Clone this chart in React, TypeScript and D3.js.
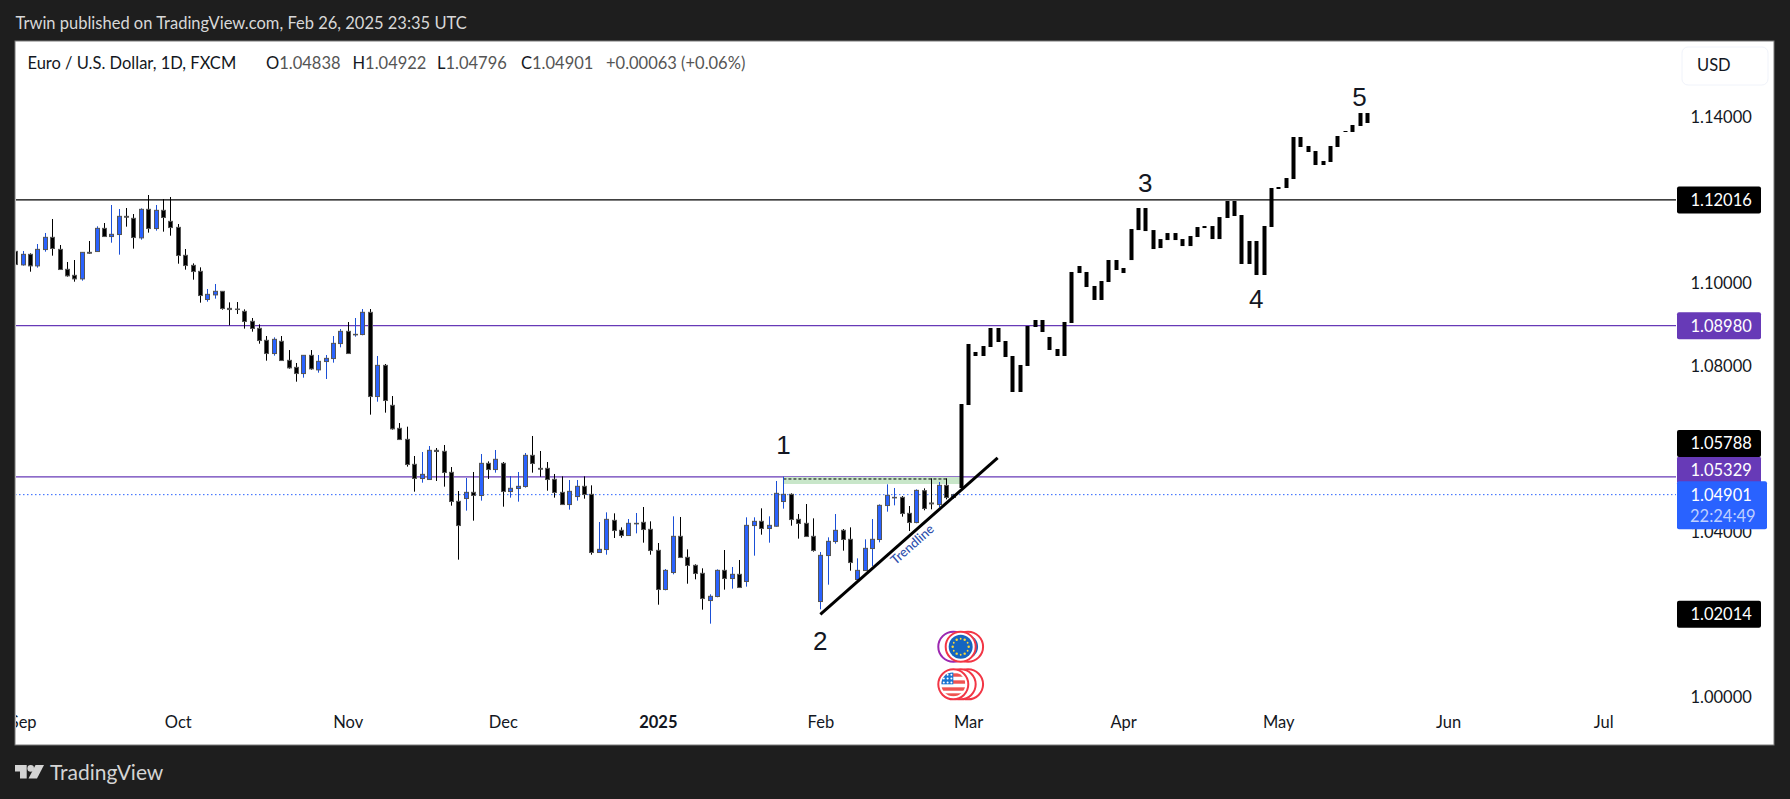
// App.tsx - EURUSD daily chart with a projected five wave path
import React, { useEffect, useRef } from 'react';
import * as d3 from 'd3';

const opens = [
  1.10774,1.10452,1.10702,1.10428,1.10822,1.11112,1.10822,1.10340,1.10195,1.10114,
  1.10750,1.10774,1.11329,1.11136,1.11185,1.11619,1.11571,1.11104,1.11788,1.11329,
  1.11764,1.11498,1.11353,1.10678,1.10436,1.10291,1.09616,1.09728,1.09809,1.09398,
  1.09382,1.09326,1.09085,1.08916,1.08626,1.08312,1.08602,1.08143,1.07974,1.07829,
  1.08264,1.07918,1.08119,1.08191,1.08553,1.08843,1.08763,1.08771,1.09302,1.07274,
  1.08022,1.07057,1.06502,1.06236,1.05633,1.05295,1.05271,1.05971,1.05947,1.05440,
  1.04740,1.04812,1.04957,1.04885,1.05657,1.05512,1.05657,1.04981,1.05054,1.05102,
  1.05850,1.05536,1.05536,1.05271,1.04957,1.04667,1.04860,1.05102,1.04909,1.03509,
  1.03581,1.04281,1.04040,1.03919,1.04201,1.04233,1.04064,1.03557,1.02616,1.03026,
  1.03895,1.03388,1.03195,1.03002,1.02350,1.02447,1.03074,1.02881,1.02978,1.02809,
  1.04160,1.04257,1.04088,1.04144,1.04740,1.04909,1.04305,1.04209,1.03895,1.02326,
  1.03436,1.03774,1.04040,1.03823,1.02857,1.03074,1.03605,1.03823,1.04643,1.04828,
  1.04836,1.04450,1.04233,1.04997,1.04700,1.04667,1.05126,1.04838,
];
const highs = [
  1.10951,1.10782,1.10726,1.10951,1.11217,1.11555,1.10927,1.10517,1.10565,1.10750,
  1.11024,1.11378,1.11458,1.11893,1.11796,1.11820,1.11675,1.11812,1.12134,1.11893,
  1.12037,1.12086,1.11434,1.10830,1.10484,1.10388,1.09865,1.09986,1.09809,1.09543,
  1.09551,1.09374,1.09165,1.09012,1.08730,1.08698,1.08730,1.08392,1.08079,1.08264,
  1.08392,1.08272,1.08272,1.08730,1.08899,1.09068,1.09165,1.09382,1.09382,1.08248,
  1.08055,1.07282,1.06630,1.06542,1.05834,1.05931,1.06075,1.06027,1.06100,1.05568,
  1.04989,1.05303,1.05448,1.05882,1.05705,1.05979,1.05689,1.05351,1.05448,1.05906,
  1.06317,1.05955,1.05689,1.05400,1.05343,1.05255,1.05255,1.05343,1.05126,1.04241,
  1.04474,1.04450,1.04112,1.04313,1.04458,1.04603,1.04257,1.03734,1.03106,1.04378,
  1.04362,1.03581,1.03219,1.03123,1.02495,1.03098,1.03565,1.03155,1.03324,1.04354,
  1.04354,1.04571,1.04378,1.05231,1.05335,1.04933,1.04434,1.04675,1.04329,1.03517,
  1.03871,1.04434,1.04072,1.04112,1.03364,1.03823,1.04313,1.04667,1.05150,1.05062,
  1.04868,1.04627,1.05029,1.05054,1.05295,1.05206,1.05295,1.04922,
];
const lows = [
  1.10460,1.10428,1.10283,1.10380,1.10766,1.10670,1.10340,1.10163,1.10042,1.10066,
  1.10718,1.10774,1.11136,1.10983,1.10694,1.11370,1.10839,1.11056,1.11225,1.11273,
  1.11249,1.11152,1.10476,1.10332,1.10090,1.09535,1.09559,1.09632,1.09366,1.08988,
  1.09262,1.08908,1.08835,1.08545,1.08135,1.08256,1.08143,1.07942,1.07628,1.07725,
  1.07918,1.07845,1.07693,1.08087,1.08457,1.08312,1.08714,1.08747,1.06832,1.07145,
  1.06880,1.06470,1.06220,1.05577,1.04973,1.05190,1.05271,1.05231,1.05094,1.04635,
  1.03332,1.04515,1.04273,1.04756,1.05279,1.05432,1.04611,1.04828,1.04732,1.05070,
  1.05432,1.05335,1.04997,1.04828,1.04667,1.04539,1.04756,1.04804,1.03452,1.03509,
  1.03452,1.03855,1.03863,1.03919,1.03967,1.03742,1.03452,1.02245,1.02591,1.02978,
  1.03388,1.02752,1.02857,1.02125,1.01787,1.02423,1.02608,1.02632,1.02664,1.02680,
  1.03428,1.03935,1.03742,1.04128,1.04563,1.04152,1.03839,1.03895,1.03525,1.02133,
  1.02728,1.03718,1.03549,1.03066,1.02841,1.03058,1.03179,1.03750,1.04490,1.04643,
  1.04370,1.04024,1.04209,1.04523,1.04547,1.04595,1.04788,1.04796,
];
const closes = [
  1.10460,1.10702,1.10428,1.10822,1.11112,1.10847,1.10340,1.10187,1.10114,1.10750,
  1.10734,1.11329,1.11136,1.11185,1.11619,1.11603,1.11112,1.11788,1.11329,1.11764,
  1.11595,1.11353,1.10678,1.10436,1.10291,1.09712,1.09736,1.09809,1.09398,1.09374,
  1.09374,1.09085,1.08916,1.08626,1.08312,1.08650,1.08143,1.07966,1.07829,1.08264,
  1.07942,1.08119,1.08191,1.08553,1.08843,1.08312,1.08771,1.09302,1.07274,1.08022,
  1.07178,1.06494,1.06236,1.05633,1.05295,1.05391,1.05971,1.05947,1.05440,1.04740,
  1.04160,1.04957,1.04885,1.05657,1.05512,1.05754,1.04981,1.05054,1.05102,1.05850,
  1.05657,1.05520,1.05271,1.04957,1.04667,1.04981,1.05102,1.04909,1.03509,1.03581,
  1.04305,1.04040,1.03919,1.04209,1.04209,1.04064,1.03557,1.02616,1.03074,1.03895,
  1.03388,1.03195,1.03002,1.02398,1.02447,1.03074,1.02881,1.02978,1.02664,1.04160,
  1.04257,1.04088,1.04160,1.04933,1.04909,1.04305,1.04209,1.03895,1.03557,1.03436,
  1.03774,1.04040,1.03823,1.03267,1.03074,1.03605,1.03823,1.04643,1.04885,1.04836,
  1.04450,1.04233,1.05005,1.04571,1.04683,1.05126,1.04836,1.04901,
];

// projected path, drawn as solid bars after the last real candle
const projHighs = [
  1.07089,1.08538,1.08345,1.08489,1.08924,1.08924,1.08610,1.08248,1.08031,1.08972,
  1.09117,1.09117,1.08707,1.08417,1.09069,1.10276,1.10420,1.10276,1.09938,1.10058,
  1.10565,1.10565,1.10372,1.11313,1.11820,1.11820,1.11288,1.11071,1.11216,1.11216,
  1.11071,1.11144,1.11361,1.11385,1.11385,1.11602,1.11989,1.11989,1.11651,1.11024,
  1.11024,1.11386,1.12303,1.12327,1.12544,1.13534,1.13534,1.13317,1.13196,1.12955,
  1.13317,1.13558,1.13679,1.13824,1.14113,1.14113,
];
const projLows = [
  1.05062,1.07065,1.08248,1.08248,1.08465,1.08586,1.08224,1.07379,1.07379,1.08007,
  1.08948,1.08827,1.08393,1.08248,1.08248,1.09045,1.10251,1.09913,1.09600,1.09600,
  1.10034,1.10324,1.10251,1.10564,1.11288,1.11264,1.10830,1.10854,1.11047,1.11047,
  1.10902,1.10902,1.11120,1.11337,1.11071,1.11071,1.11579,1.11627,1.10469,1.10469,
  1.10203,1.10203,1.11362,1.12279,1.12303,1.12520,1.13293,1.13172,1.12858,1.12858,
  1.12931,1.13293,1.13655,1.13655,1.13800,1.13872,
];

const priceTicks = [1.0, 1.04, 1.08, 1.1, 1.14];
const monthTicks = [1, 22, 45, 66, 87, 109, 129, 150, 171, 194, 215];
const monthNames = ['Sep', 'Oct', 'Nov', 'Dec', '2025', 'Feb', 'Mar', 'Apr', 'May', 'Jun', 'Jul'];

const blackLevel = 1.12016;
const purpleLevels = [1.0898, 1.05329];
const lastPrice = 1.04901;

const trendStart = { bar: 109, price: 1.02014 };
const trendEnd = { bar: 133, price: 1.05788 };

const waveLabels = ['1', '2', '3', '4', '5'];
const waveBars = [104, 109, 153, 168, 182];
const wavePrices = [1.06099, 1.01376, 1.12423, 1.09624, 1.145];

const legendTitle = 'Euro / U.S. Dollar, 1D, FXCM';
const legendKeys = ['O', 'H', 'L', 'C'];
const legendValues = ['1.04838', '1.04922', '1.04796', '1.04901'];

const euBars = [127, 129];
const usBars = [129, 128, 127];

const W = 1790;
const H = 799;
const panel = { left: 15, top: 41, right: 1774, bottom: 745 };
const paneRight = 1676;
const UI_FONT = "Lato, 'Open Sans', sans-serif";
const BLUE = '#2962ff';
const PURPLE = '#673ab7';
const RED = '#f23645';

const App: React.FC = () => {
  const svgRef = useRef<SVGSVGElement | null>(null);

  useEffect(() => {
    const svg = d3.select(svgRef.current);
    svg.selectAll('*').remove();

    const x = d3.scaleLinear().domain([0, 127]).range([15.3, 953.3]);
    const y = d3.scaleLinear().domain([1.0, 1.14]).range([697.7, 117.7]);

    svg.append('rect').attr('width', W).attr('height', H).attr('fill', '#1e1e1e');
    svg
      .append('rect')
      .attr('x', panel.left)
      .attr('y', panel.top)
      .attr('width', panel.right - panel.left)
      .attr('height', panel.bottom - panel.top)
      .attr('fill', '#fff')
      .attr('stroke', '#787878')
      .attr('stroke-width', 1);

    const defs = svg.append('defs');
    defs
      .append('clipPath')
      .attr('id', 'pane')
      .append('rect')
      .attr('x', panel.left + 1)
      .attr('y', panel.top)
      .attr('width', paneRight - panel.left - 1)
      .attr('height', panel.bottom - panel.top);
    defs
      .append('clipPath')
      .attr('id', 'timeaxis')
      .append('rect')
      .attr('x', panel.left + 1)
      .attr('y', 700)
      .attr('width', panel.right - panel.left - 1)
      .attr('height', 44);

    svg
      .append('text')
      .attr('x', 15.5)
      .attr('y', 29)
      .attr('font-family', UI_FONT)
      .attr('font-size', 16.5)
      .attr('fill', '#d8d8d8')
      .text('Trwin published on TradingView.com, Feb 26, 2025 23:35 UTC');

    const pane = svg.append('g').attr('clip-path', 'url(#pane)');

    // levels sit behind the candles
    pane
      .append('line')
      .attr('x1', panel.left)
      .attr('x2', paneRight)
      .attr('y1', y(blackLevel))
      .attr('y2', y(blackLevel))
      .attr('stroke', '#000')
      .attr('stroke-width', 1.2);
    pane
      .selectAll('line.purple')
      .data(purpleLevels)
      .join('line')
      .attr('class', 'purple')
      .attr('x1', panel.left)
      .attr('x2', paneRight)
      .attr('y1', d => y(d))
      .attr('y2', d => y(d))
      .attr('stroke', PURPLE)
      .attr('stroke-width', 1.2);
    pane
      .append('line')
      .attr('x1', panel.left)
      .attr('x2', paneRight)
      .attr('y1', y(lastPrice))
      .attr('y2', y(lastPrice))
      .attr('stroke', BLUE)
      .attr('stroke-width', 1)
      .attr('stroke-dasharray', '1.5 2.5');

    // green box and dashed line from the wave 1 high
    pane
      .append('rect')
      .attr('x', x(104))
      .attr('y', y(1.05329))
      .attr('width', x(128) - x(104))
      .attr('height', y(1.05158) - y(1.05329))
      .attr('fill', '#c8e6c9');
    pane
      .append('line')
      .attr('x1', x(104))
      .attr('x2', x(126.3))
      .attr('y1', y(1.05279))
      .attr('y2', y(1.05279))
      .attr('stroke', '#000')
      .attr('stroke-width', 1)
      .attr('stroke-dasharray', '3 2');

    const bars = d3.range(opens.length);
    const isUp = (i: number) => closes[i] >= opens[i];

    pane
      .selectAll('line.wick')
      .data(bars)
      .join('line')
      .attr('class', 'wick')
      .attr('x1', i => Math.round(x(i)) + 0.5)
      .attr('x2', i => Math.round(x(i)) + 0.5)
      .attr('y1', i => y(highs[i]))
      .attr('y2', i => y(lows[i]))
      .attr('stroke', i => (isUp(i) ? '#1a4fd6' : '#000'))
      .attr('stroke-width', 1);

    pane
      .selectAll('rect.body')
      .data(bars)
      .join('rect')
      .attr('class', 'body')
      .attr('x', i => Math.round(x(i)) - 1.5)
      .attr('width', 4)
      .attr('y', i => Math.min(y(opens[i]), y(closes[i])))
      .attr('height', i => Math.abs(y(opens[i]) - y(closes[i])) + 0.2)
      .attr('fill', i => (isUp(i) ? BLUE : '#000'))
      .attr('stroke', '#555')
      .attr('stroke-width', 1);

    pane
      .selectAll('rect.proj')
      .data(projHighs)
      .join('rect')
      .attr('class', 'proj')
      .attr('x', (_, i) => Math.round(x(128 + i)) - 1.5)
      .attr('width', 4)
      .attr('y', d => y(d))
      .attr('height', (d, i) => y(projLows[i]) - y(d))
      .attr('fill', '#000');

    const trend = d3
      .line<{ bar: number; price: number }>()
      .x(d => x(d.bar))
      .y(d => y(d.price));
    pane
      .append('path')
      .datum([trendStart, trendEnd])
      .attr('d', trend)
      .attr('fill', 'none')
      .attr('stroke', '#000')
      .attr('stroke-width', 3);

    const angle =
      (Math.atan2(y(trendEnd.price) - y(trendStart.price), x(trendEnd.bar) - x(trendStart.bar)) * 180) / Math.PI;
    pane
      .append('text')
      .attr('transform', `translate(${x(121.4)},${y(1.0371)}) rotate(${angle})`)
      .attr('text-anchor', 'middle')
      .attr('dominant-baseline', 'central')
      .attr('font-family', UI_FONT)
      .attr('font-size', 13)
      .attr('font-weight', 500)
      .attr('fill', '#2f50ad')
      .text('Trendline');

    pane
      .selectAll('text.wave')
      .data(waveLabels)
      .join('text')
      .attr('class', 'wave')
      .attr('x', (_, i) => x(waveBars[i]))
      .attr('y', (_, i) => y(wavePrices[i]))
      .attr('text-anchor', 'middle')
      .attr('dominant-baseline', 'central')
      .attr('font-family', "'Liberation Sans', sans-serif")
      .attr('font-size', 26)
      .attr('fill', '#131722')
      .text(d => d);

    // economic event badges under the chart
    const euY = y(1.0123);
    const usY = y(1.00323);
    const badge = pane.append('g');
    const ring = (cx: number, cy: number, color: string) =>
      badge
        .append('circle')
        .attr('cx', cx)
        .attr('cy', cy)
        .attr('r', 15)
        .attr('fill', '#fff')
        .attr('stroke', color)
        .attr('stroke-width', 2);

    ring(x(euBars[1]) , euY, RED);
    badge.append('circle').attr('cx', x(euBars[1]) - 2).attr('cy', euY).attr('r', 12).attr('fill', '#1565c0');
    ring(x(euBars[0]), euY, '#9c27b0');
    ring(x(128), euY, RED);
    badge.append('circle').attr('cx', x(128)).attr('cy', euY).attr('r', 12).attr('fill', '#1565c0');
    badge
      .selectAll('circle.star')
      .data(d3.range(12))
      .join('circle')
      .attr('class', 'star')
      .attr('cx', i => x(128) + 8 * Math.cos((i * Math.PI) / 6))
      .attr('cy', i => euY + 8 * Math.sin((i * Math.PI) / 6))
      .attr('r', i => (i % 2 ? 0.9 : 1.2))
      .attr('fill', '#fdd835');

    usBars.forEach(b => ring(x(b), usY, RED));
    const fx = x(usBars[2]);
    defs
      .append('clipPath')
      .attr('id', 'usflag')
      .append('circle')
      .attr('cx', fx)
      .attr('cy', usY)
      .attr('r', 12);
    const flag = badge.append('g').attr('clip-path', 'url(#usflag)');
    flag.append('rect').attr('x', fx - 12).attr('y', usY - 12).attr('width', 24).attr('height', 24).attr('fill', '#fff');
    flag
      .selectAll('rect.stripe')
      .data([-11, -4, 3, 9])
      .join('rect')
      .attr('class', 'stripe')
      .attr('x', fx - 12)
      .attr('y', d => usY + d)
      .attr('width', 24)
      .attr('height', 3.4)
      .attr('fill', '#ef5350');
    flag.append('rect').attr('x', fx - 12).attr('y', usY - 12).attr('width', 12).attr('height', 12).attr('fill', '#1976d2');
    flag
      .selectAll('circle.usstar')
      .data(d3.range(9))
      .join('circle')
      .attr('class', 'usstar')
      .attr('cx', i => fx - 9.5 + (i % 3) * 3.8)
      .attr('cy', i => usY - 9.5 + Math.floor(i / 3) * 3.8)
      .attr('r', 1)
      .attr('fill', '#fff');

    // axes
    const yAxis = d3
      .axisRight(y)
      .tickValues(priceTicks)
      .tickSize(0)
      .tickPadding(0)
      .tickFormat(d => d3.format('.5f')(d as number));
    const yg = svg.append('g').attr('transform', 'translate(1690.5,0)').call(yAxis);
    yg.select('.domain').remove();
    yg.selectAll('text')
      .attr('font-family', UI_FONT)
      .attr('font-size', 16.5)
      .attr('fill', '#131722');

    const xAxis = d3
      .axisBottom(x)
      .tickValues(monthTicks)
      .tickSize(0)
      .tickPadding(0)
      .tickFormat((_, i) => monthNames[i]);
    const xg = svg
      .append('g')
      .attr('clip-path', 'url(#timeaxis)')
      .append('g')
      .attr('transform', 'translate(0,716)')
      .call(xAxis);
    xg.select('.domain').remove();
    xg.selectAll('text')
      .attr('font-family', UI_FONT)
      .attr('font-size', 16.5)
      .attr('font-weight', (_, i) => (monthNames[i] === '2025' ? 700 : 400))
      .attr('fill', '#131722');

    // legend row
    const legend = svg
      .append('g')
      .attr('font-family', UI_FONT)
      .attr('font-size', 16.5)
      .attr('fill', '#131722');
    legend.append('text').attr('x', 27.5).attr('y', 69).text(legendTitle);
    const legendX = [266, 352.5, 437, 521];
    legendKeys.forEach((k, i) => {
      const t = legend.append('text').attr('x', legendX[i]).attr('y', 69);
      t.append('tspan').text(k);
      t.append('tspan').attr('fill', '#555').text(legendValues[i]);
    });
    legend.append('text').attr('x', 606).attr('y', 69).attr('fill', '#555').text('+0.00063 (+0.06%)');

    svg
      .append('rect')
      .attr('x', 1682)
      .attr('y', 47)
      .attr('width', 86)
      .attr('height', 38)
      .attr('rx', 6)
      .attr('fill', '#fff')
      .attr('stroke', '#f0f3fa');
    svg
      .append('text')
      .attr('x', 1697)
      .attr('y', 71)
      .attr('font-family', UI_FONT)
      .attr('font-size', 16.5)
      .attr('fill', '#131722')
      .text('USD');

    // price scale labels, nudged where they would collide
    const priceLabels = [blackLevel, 1.0898, 1.05788, 1.05329, 1.02014];
    const labelColors = ['#000', PURPLE, '#000', PURPLE, '#000'];
    const labelNudge = [0, 0, -14.5, -7, 0];
    // purple goes first so the black one above it stays whole
    [3, 0, 1, 2, 4].forEach(i => {
      const cy = y(priceLabels[i]) + labelNudge[i];
      svg
        .append('rect')
        .attr('x', 1677)
        .attr('y', cy - 13.5)
        .attr('width', 84)
        .attr('height', 27)
        .attr('rx', 2)
        .attr('fill', labelColors[i]);
      svg
        .append('text')
        .attr('x', 1690.5)
        .attr('y', cy)
        .attr('dominant-baseline', 'central')
        .attr('font-family', UI_FONT)
        .attr('font-size', 16.5)
        .attr('fill', '#fff')
        .text(d3.format('.5f')(priceLabels[i]));
    });

    svg
      .append('rect')
      .attr('x', 1677)
      .attr('y', y(lastPrice) - 13.5)
      .attr('width', 90)
      .attr('height', 48)
      .attr('rx', 2)
      .attr('fill', BLUE);
    svg
      .append('text')
      .attr('x', 1690.5)
      .attr('y', y(lastPrice))
      .attr('dominant-baseline', 'central')
      .attr('font-family', UI_FONT)
      .attr('font-size', 16.5)
      .attr('fill', '#fff')
      .text(d3.format('.5f')(lastPrice));
    svg
      .append('text')
      .attr('x', 1690)
      .attr('y', y(lastPrice) + 21)
      .attr('dominant-baseline', 'central')
      .attr('font-family', UI_FONT)
      .attr('font-size', 16.5)
      .attr('fill', '#bfd0ff')
      .text('22:24:49');

    // footer logo
    const logo = svg.append('g').attr('fill', '#d4d4d4');
    logo.append('path').attr('d', 'M15 765H26.7V778.5H20V771.5H15Z');
    logo.append('circle').attr('cx', 30.7).attr('cy', 768.4).attr('r', 3.3);
    logo.append('path').attr('d', 'M35.5 765H44L37 778.5H28.5Z');
    svg
      .append('text')
      .attr('x', 50)
      .attr('y', 780)
      .attr('font-family', UI_FONT)
      .attr('font-size', 21)
      .attr('fill', '#d4d4d4')
      .text('TradingView');
  }, []);

  return <svg ref={svgRef} width={W} height={H} style={{ position: 'absolute', top: 0, left: 0, display: 'block' }}></svg>;
};

export default App;
